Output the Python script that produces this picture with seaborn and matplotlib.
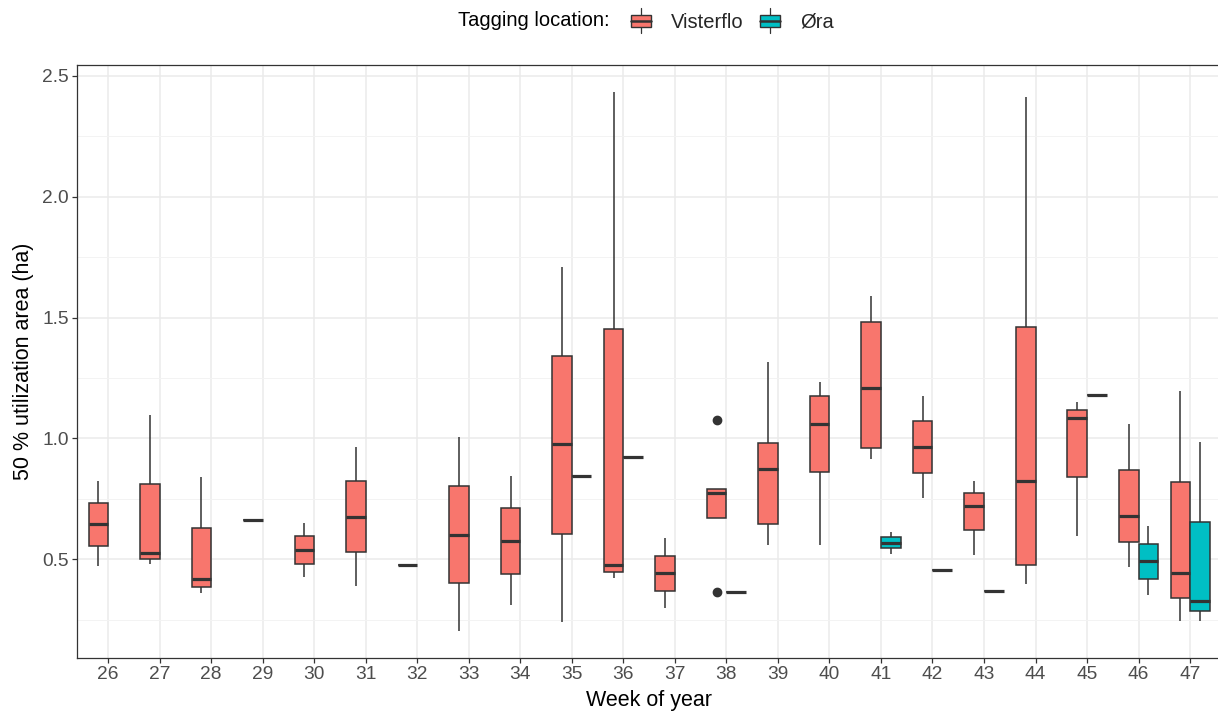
import matplotlib
matplotlib.use("Agg")
import matplotlib.pyplot as plt
from matplotlib.legend_handler import HandlerBase
from matplotlib.patches import Rectangle
from matplotlib.lines import Line2D
from matplotlib.ticker import MultipleLocator
import seaborn as sns
import pandas as pd

# ---------------- data ----------------
weeks = list(range(26, 48))
week_labels = [str(w) for w in weeks]

# Visterflo: values per week (min, q1, median, q3, max, outliers where present)
visterflo_values = [
    [0.471, 0.555, 0.645, 0.733, 0.822],   # 26
    [0.481, 0.501, 0.526, 0.810, 1.098],   # 27
    [0.361, 0.387, 0.417, 0.629, 0.839],   # 28
    [0.662],                               # 29
    [0.427, 0.482, 0.540, 0.595, 0.650],   # 30
    [0.390, 0.530, 0.676, 0.822, 0.963],   # 31
    [0.475],                               # 32
    [0.203, 0.400, 0.602, 0.804, 1.005],   # 33
    [0.309, 0.441, 0.577, 0.711, 0.843],   # 34
    [0.242, 0.604, 0.975, 1.342, 1.708],   # 35
    [0.424, 0.449, 0.475, 1.452, 2.433],   # 36
    [0.300, 0.369, 0.444, 0.515, 0.588],   # 37
    [0.364, 0.672, 0.773, 0.790, 1.076],   # 38
    [0.557, 0.647, 0.874, 0.980, 1.316],   # 39
    [0.560, 0.860, 1.060, 1.177, 1.232],   # 40
    [0.915, 0.959, 1.210, 1.483, 1.590],   # 41
    [0.754, 0.858, 0.966, 1.072, 1.177],   # 42
    [0.517, 0.619, 0.722, 0.774, 0.824],   # 43
    [0.396, 0.475, 0.824, 1.462, 2.414],   # 44
    [0.596, 0.839, 1.084, 1.118, 1.149],   # 45
    [0.468, 0.571, 0.677, 0.869, 1.059],   # 46
    [0.245, 0.341, 0.443, 0.820, 1.197],   # 47
]

ora_weeks = [35, 36, 38, 41, 42, 43, 45, 46, 47]
ora_values = [
    [0.845],
    [0.925],
    [0.364],
    [0.523, 0.545, 0.569, 0.591, 0.612],
    [0.454],
    [0.370],
    [1.180],
    [0.351, 0.420, 0.494, 0.565, 0.637],
    [0.243, 0.285, 0.329, 0.656, 0.983],
]

locations = ["Visterflo", "Øra"]
colors = ["#F8766D", "#00BFC4"]

rows = []
for w, vals in zip(weeks, visterflo_values):
    for v in vals:
        rows.append((str(w), "Visterflo", v))
for w, vals in zip(ora_weeks, ora_values):
    for v in vals:
        rows.append((str(w), "Øra", v))
df = pd.DataFrame(rows, columns=["week", "location", "area"])

# ---------------- style ----------------
sns.set_theme(style="white")
plt.rcParams["font.family"] = ["Liberation Sans", "DejaVu Sans"]

W, H = 1218, 718
fig = plt.figure(figsize=(W / 100, H / 100), dpi=100)
ax_left, ax_right, ax_top, ax_bot = 77.3, 1221.0, 65.0, 658.0
ax = fig.add_axes([ax_left / W, 1 - ax_bot / H, (ax_right - ax_left) / W, (ax_bot - ax_top) / H])
ax.set_facecolor("white")

edge = "#333333"
lw = 1.1
sns.boxplot(
    data=df, x="week", y="area", hue="location",
    order=week_labels, hue_order=locations, palette=colors,
    width=0.76, gap=0, dodge=True, saturation=1,
    linecolor=edge, linewidth=lw, showcaps=False,
    medianprops=dict(linewidth=2.3, color=edge),
    whiskerprops=dict(linewidth=lw, color=edge),
    flierprops=dict(marker="o", markersize=6, markerfacecolor=edge,
                    markeredgecolor=edge),
    legend=False, ax=ax, zorder=3,
)

# axes limits / grid
ymin, ymax = 0.203, 2.433
pad = (ymax - ymin) * 0.05
ax.set_ylim(ymin - pad, ymax + pad)
ax.set_xlim(-0.6, len(weeks) - 1 + 0.6)
ax.yaxis.set_major_locator(MultipleLocator(0.5))
ax.yaxis.set_minor_locator(MultipleLocator(0.25))
ax.set_yticks([0.5, 1.0, 1.5, 2.0, 2.5])
ax.set_yticklabels(["0.5", "1.0", "1.5", "2.0", "2.5"])
ax.grid(True, which="major", color="#EBEBEB", linewidth=1.1, zorder=0)
ax.grid(True, which="minor", axis="y", color="#F3F3F3", linewidth=0.7, zorder=0)
ax.set_axisbelow(True)

for s in ax.spines.values():
    s.set_color(edge)
    s.set_linewidth(0.9)
    s.set_visible(True)

ax.tick_params(axis="both", which="major", direction="out", length=3.6, width=0.9,
               color=edge, labelcolor="#4D4D4D", labelsize=13.8, pad=2.5,
               bottom=True, left=True)
ax.tick_params(axis="y", which="minor", length=0, left=False)

ax.set_xlabel("Week of year", fontsize=15.5, color="black", labelpad=5)
ax.set_ylabel("50 % utilization area (ha)", fontsize=15.5, color="black", labelpad=6)

# ---------------- legend (top) ----------------
class BoxHandler(HandlerBase):
    def create_artists(self, legend, orig_handle, xdescent, ydescent, width, height,
                       fontsize, trans):
        x0, y0 = -xdescent, -ydescent
        fc = orig_handle.get_facecolor()
        cx = x0 + width / 2
        whisk = Line2D([cx, cx], [y0 - height * 0.1, y0 + height * 1.1],
                       color=edge, linewidth=0.9, transform=trans)
        rect = Rectangle((x0, y0 + height * 0.2), width, height * 0.6,
                         facecolor=fc, edgecolor=edge, linewidth=1.0, transform=trans)
        med = Line2D([x0, x0 + width], [y0 + height * 0.5] * 2,
                     color=edge, linewidth=1.8, transform=trans)
        return [whisk, rect, med]

handles = [Rectangle((0, 0), 1, 1, facecolor=c) for c in colors]
fig.text(458 / W, 1 - 21 / H, "Tagging location:", fontsize=14.5, color="black",
         ha="left", va="center")
leg = fig.legend(handles, locations, handler_map={Rectangle: BoxHandler()},
                 loc="center left", bbox_to_anchor=(631 / W, 1 - 21 / H),
                 ncol=2, frameon=False, fontsize=14.5, borderpad=0, borderaxespad=0,
                 handlelength=1.0, handleheight=1.2, handletextpad=1.0,
                 columnspacing=0.8)

fig.savefig("out.png", dpi=100, facecolor="white")
